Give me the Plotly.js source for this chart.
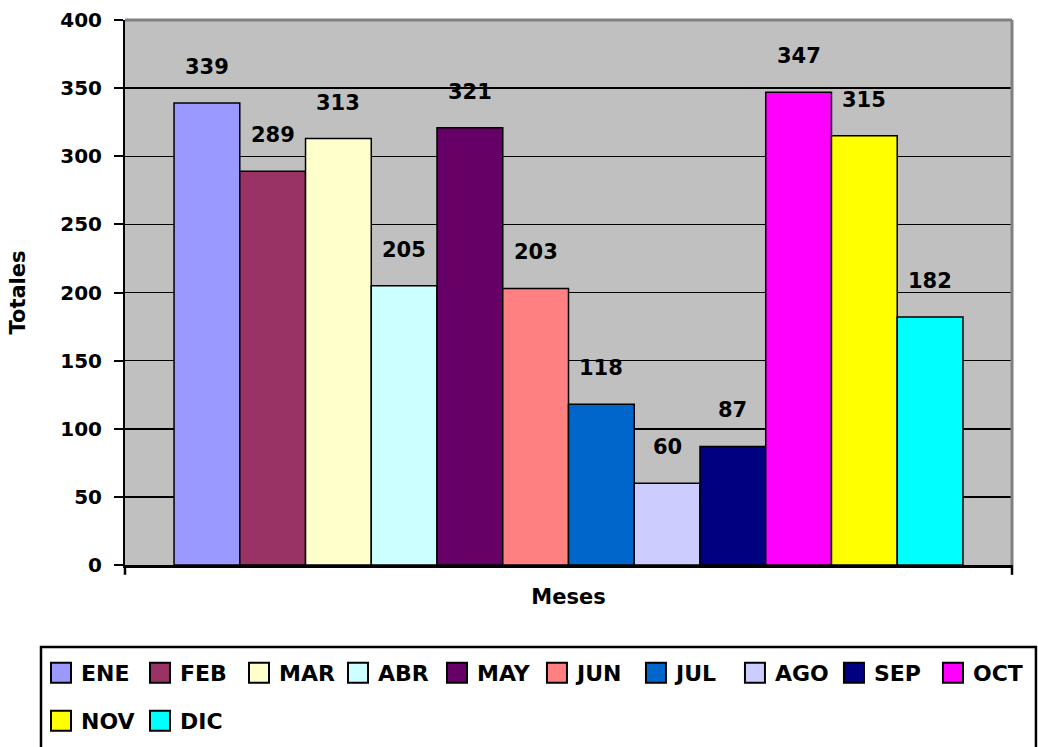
<!DOCTYPE html>
<html>
<head>
<meta charset="utf-8">
<script src="https://cdn.plot.ly/plotly-3.0.1.min.js"></script>
<style>html,body{margin:0;padding:0;background:#fff;}</style>
</head>
<body>
<div id="chart" style="width:1038px;height:747px;"></div>
<script>
const months = ["ENE","FEB","MAR","ABR","MAY","JUN","JUL","AGO","SEP","OCT","NOV","DIC"];
const totals = [339,289,313,205,321,203,118,60,87,347,315,182];
const colors = ["#9999FF","#993366","#FFFFCC","#CCFFFF","#660066","#FF8080","#0066CC","#CCCCFF","#000080","#FF00FF","#FFFF00","#00FFFF"];
const yTicks = [0,50,100,150,200,250,300,350,400];

const FONT = "DejaVu Sans, Verdana, sans-serif";

function legendFor(i) {
  if (i < 5) return "legend";
  if (i < 10) return "legend3";
  return "legend2";
}

const traces = months.map((m, i) => ({
  type: "bar",
  name: m,
  x: [m],
  y: [totals[i]],
  width: 1,
  legend: legendFor(i),
  marker: {color: colors[i], line: {color: "#000", width: 1.5}},
  hoverinfo: "x+y"
}));

const annotations = months.map((m, i) => ({
  x: m, y: totals[i], xref: "x", yref: "y",
  text: String(totals[i]),
  showarrow: false,
  yshift: 36,
  font: {family: FONT, size: 21, color: "#000", weight: "bold"}
}));

const legendCommon = {
  orientation: "h",
  xref: "container", yref: "container",
  xanchor: "left", yanchor: "top",
  borderwidth: 0,
  bgcolor: "rgba(0,0,0,0)",
  entrywidth: 54, entrywidthmode: "pixels",
  font: {family: FONT, size: 22, weight: "bold", color: "#000"},
  traceorder: "normal"
};

const layout = {
  width: 1038, height: 747,
  margin: {l: 125, r: 26, t: 20, b: 182},
  paper_bgcolor: "#fff",
  plot_bgcolor: "#C0C0C0",
  barmode: "overlay",
  bargap: 0,
  font: {family: FONT, size: 20, color: "#000", weight: "bold"},
  xaxis: {
    type: "category",
    categoryorder: "array",
    categoryarray: months,
    range: [-1.246, 12.246],
    showticklabels: false,
    ticks: "",
    showgrid: false,
    showline: true, linecolor: "#000", linewidth: 3,
    zeroline: false,
    title: {text: "Meses", font: {family: FONT, size: 21, weight: "bold"}, standoff: 23}
  },
  yaxis: {
    range: [0, 400],
    tickvals: yTicks,
    ticktext: yTicks.map(String),
    ticks: "outside", ticklen: 9, tickwidth: 2, tickcolor: "#000",
    ticklabelstandoff: 8,
    showgrid: true, gridcolor: "#000", gridwidth: 1.5,
    showline: true, linecolor: "#000", linewidth: 2,
    zeroline: false,
    tickfont: {family: FONT, size: 20, weight: "bold"},
    title: {text: "Totales", font: {family: FONT, size: 21, weight: "bold"}, standoff: 29}
  },
  shapes: [
    {type: "line", xref: "paper", yref: "paper", x0: 0, x1: 1, y0: 1, y1: 1, line: {color: "#808080", width: 3}},
    {type: "line", xref: "paper", yref: "paper", x0: 1, x1: 1, y0: 0, y1: 1, line: {color: "#808080", width: 3}},
    {type: "line", xref: "paper", yref: "paper", x0: 0, x1: 0, y0: 0, y1: -0.018, line: {color: "#000", width: 2.5}},
    {type: "line", xref: "paper", yref: "paper", x0: 1, x1: 1, y0: 0, y1: -0.018, line: {color: "#000", width: 2.5}},
    {type: "rect", xref: "paper", yref: "paper", x0: -0.0947, x1: 1.027, y0: -0.1505, y1: -0.358, line: {color: "#000", width: 2.5}, fillcolor: "rgba(0,0,0,0)"}
  ],
  annotations: annotations,
  showlegend: true,
  legend: Object.assign({}, legendCommon, {x: 0.0395, y: 0.1271}),
  legend3: Object.assign({}, legendCommon, {x: 0.5173, y: 0.1271}),
  legend2: Object.assign({}, legendCommon, {x: 0.0395, y: 0.0629})
};

Plotly.newPlot("chart", traces, layout, {displayModeBar: false, staticPlot: true}).then(gd => {
  gd.querySelectorAll(".legendpoints path").forEach(p => {
    p.setAttribute("d", "M10,10H-10V-10H10Z");
    p.style.strokeWidth = "2px";
  });
});
</script>
</body>
</html>
